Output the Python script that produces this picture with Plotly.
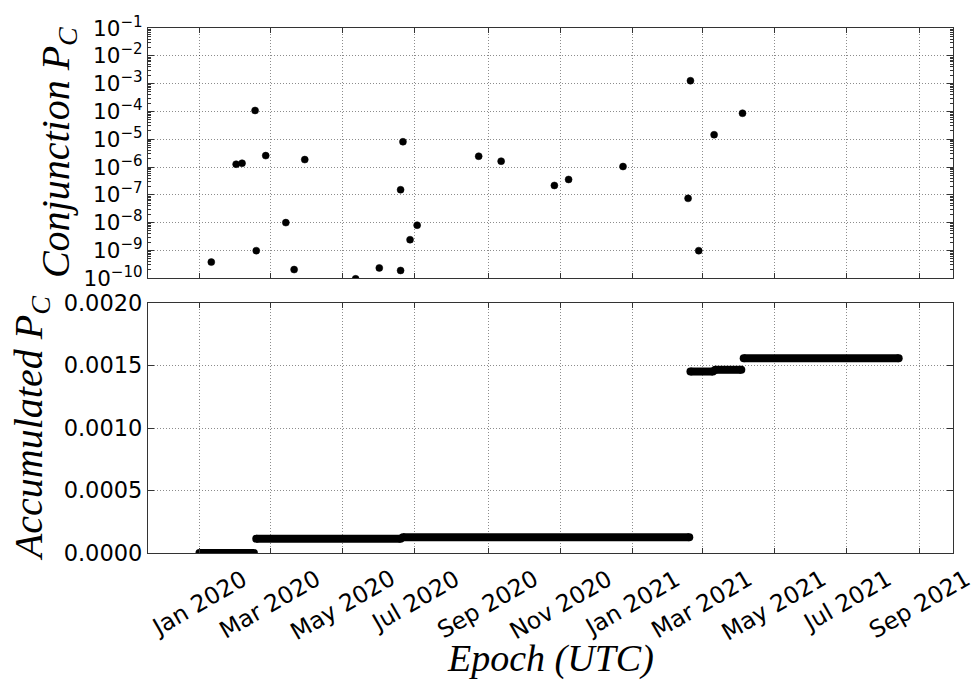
import plotly.graph_objects as go

# ---------------- data ----------------
conj_dates = ["2020-01-11", "2020-02-01", "2020-02-06", "2020-02-17", "2020-02-18",
              "2020-02-26", "2020-03-14", "2020-03-21", "2020-03-30", "2020-05-12",
              "2020-06-01", "2020-06-19", "2020-06-19", "2020-06-21", "2020-06-27",
              "2020-07-03", "2020-08-24", "2020-09-12", "2020-10-27", "2020-11-08",
              "2020-12-24", "2021-02-17", "2021-02-19", "2021-02-26", "2021-03-11",
              "2021-04-04"]
conj_pc = [3.8e-10, 1.26e-6, 1.37e-6, 1.08e-4, 9.8e-10,
           2.57e-6, 1.0e-8, 2.05e-10, 1.85e-6, 9.5e-11,
           2.34e-10, 1.9e-10, 1.52e-7, 8.1e-6, 2.43e-9,
           8.07e-9, 2.44e-6, 1.62e-6, 2.17e-7, 3.56e-7,
           1.04e-6, 7.45e-8, 1.27e-3, 9.8e-10, 1.45e-5,
           8.6e-5]

acc_start = ["2020-01-01", "2020-02-18", "2020-06-21", "2021-02-19", "2021-03-12", "2021-04-05"]
acc_end = ["2020-02-16", "2020-06-19", "2021-02-18", "2021-03-10", "2021-04-03", "2021-08-14"]
acc_level = [0.0, 0.000114, 0.000126, 0.001452, 0.001466, 0.001558]

tick_dates = ["2020-01-01", "2020-03-01", "2020-05-01", "2020-07-01", "2020-09-01",
              "2020-11-01", "2021-01-01", "2021-03-01", "2021-05-01", "2021-07-01",
              "2021-09-01"]
tick_labels = ["Jan 2020", "Mar 2020", "May 2020", "Jul 2020", "Sep 2020", "Nov 2020",
               "Jan 2021", "Mar 2021", "May 2021", "Jul 2021", "Sep 2021"]

log_exponents = [-10, -9, -8, -7, -6, -5, -4, -3, -2, -1]
log_tick_vals = [10.0 ** e for e in log_exponents]
log_tick_text = ["10<sup>\u2212%d</sup>" % (-e) for e in log_exponents]

acc_tick_vals = [0, 0.0005, 0.001, 0.0015, 0.002]

x_range = ["2019-11-18 12:00", "2021-09-28 22:00"]

# minor tick positions of the log axis (2..9 within each decade)
log_minor = [m * 10.0 ** e for e in range(-10, -1) for m in range(2, 10)]

# ---------------- figure ----------------
fig = go.Figure()

fig.add_trace(go.Scatter(
    x=conj_dates, y=conj_pc, mode="markers",
    marker=dict(color="black", size=7, line=dict(color="black", width=0.5)),
    xaxis="x", yaxis="y", showlegend=False, cliponaxis=True,
))

for s, e, v in zip(acc_start, acc_end, acc_level):
    fig.add_trace(go.Scatter(
        x=[s, e], y=[v, v], mode="lines+markers",
        line=dict(color="black", width=8),
        marker=dict(color="black", size=8),
        xaxis="x2", yaxis="y2", showlegend=False, cliponaxis=True,
    ))

FRAME = "#333333"
GRID = "rgba(0,0,0,0.45)"
TICKFONT = dict(family="DejaVu Sans", size=22.5, color="black")
XTICKFONT = dict(family="DejaVu Sans", size=23.5, color="black")

common_x = dict(
    type="date", range=x_range, tickvals=tick_dates, showticklabels=False,
    showgrid=True, gridcolor=GRID, griddash="1px,2px", gridwidth=1,
    ticks="inside", ticklen=5, tickcolor=FRAME, tickwidth=1,
    showline=True, linecolor=FRAME, linewidth=1.2, mirror="allticks",
    zeroline=False,
)

fig.update_layout(
    width=974, height=683,
    margin=dict(l=148, r=21, t=24, b=130),
    paper_bgcolor="white", plot_bgcolor="white",
    xaxis=dict(common_x, domain=[0, 1], anchor="y"),
    xaxis2=dict(common_x, domain=[0, 1], anchor="y2", matches="x"),
    yaxis=dict(
        type="log", range=[-10, -1], domain=[0.5234, 1], anchor="x",
        tickvals=log_tick_vals, ticktext=log_tick_text,
        tickfont=dict(family="DejaVu Sans", size=21.5, color="black"),
        showgrid=True, gridcolor=GRID, griddash="1px,2px", gridwidth=1,
        ticks="inside", ticklen=6, tickcolor=FRAME, tickwidth=1,
        minor=dict(tickvals=log_minor, ticks="inside", ticklen=3,
                   tickcolor=FRAME, showgrid=False),
        showline=True, linecolor=FRAME, linewidth=1.2, mirror="allticks",
        zeroline=False,
    ),
    yaxis2=dict(
        range=[0, 0.002], domain=[0, 0.4761], anchor="x2",
        tickvals=acc_tick_vals, tickformat=".4f",
        tickfont=TICKFONT,
        showgrid=True, gridcolor=GRID, griddash="1px,2px", gridwidth=1,
        ticks="inside", ticklen=6, tickcolor=FRAME, tickwidth=1,
        showline=True, linecolor=FRAME, linewidth=1.2, mirror="allticks",
        zeroline=False,
    ),
)

TITLEFONT = dict(family="Liberation Serif", size=40, color="black")
annotations = [
    dict(text="<i>Conjunction P</i><sub><i>C</i></sub>", xref="paper", yref="paper",
         x=-0.1118, y=0.7617, xanchor="center", yanchor="middle", textangle=-90,
         showarrow=False, font=TITLEFONT),
    dict(text="<i>Accumulated P</i><sub><i>C</i></sub>", xref="paper", yref="paper",
         x=-0.1454, y=0.2378, xanchor="center", yanchor="middle", textangle=-90,
         showarrow=False, font=TITLEFONT),
    dict(text="<i>Epoch (UTC)</i>", xref="paper", yref="paper",
         x=0.5, y=-0.201, xanchor="center", yanchor="middle",
         showarrow=False, font=dict(TITLEFONT, size=38)),
]
for d, lab in zip(tick_dates, tick_labels):
    annotations.append(dict(
        text=lab, xref="x2", yref="paper", x=d, y=-0.016,
        xanchor="center", yanchor="top", textangle=-30, showarrow=False,
        font=XTICKFONT,
    ))
fig.update_layout(annotations=annotations)

fig.write_html("out.html", config={"displayModeBar": False},
               post_script="document.body.style.margin='0';")
